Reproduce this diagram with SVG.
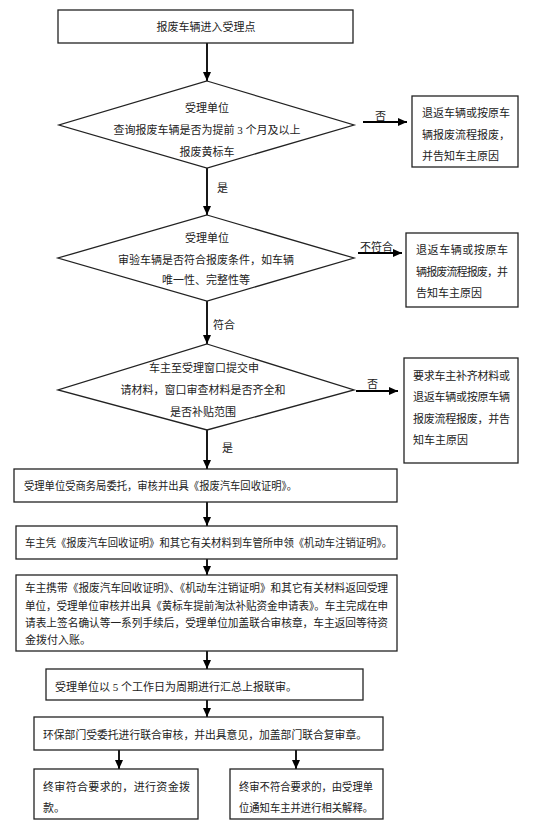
<svg xmlns="http://www.w3.org/2000/svg" width="550" height="829" viewBox="0 0 550 829">
<defs>
<marker id="ah" markerUnits="userSpaceOnUse" markerWidth="9" markerHeight="8" refX="9" refY="4" orient="auto">
<path d="M0,0 L9,4 L0,8 z" fill="#000"/>
</marker>
<style>
.n{fill:#fff;stroke:#222;stroke-width:1.3}
.t{font-family:"Liberation Serif","Noto Sans CJK SC",serif;font-size:11px;fill:#222}
.c{text-anchor:middle}
.e{stroke:#000;stroke-width:1.8;fill:none;marker-end:url(#ah)}
</style>
</defs>
<rect width="550" height="829" fill="#fff"/>
<g id="connectors">
<line class="e" x1="207" y1="43" x2="207" y2="81"/>
<line class="e" x1="207" y1="168" x2="207" y2="215"/>
<line class="e" x1="207" y1="301" x2="207" y2="344"/>
<line class="e" x1="207" y1="430" x2="207" y2="469"/>
<line class="e" x1="207" y1="502" x2="207" y2="526"/>
<line class="e" x1="207" y1="559" x2="207" y2="575"/>
<line class="e" x1="207" y1="651" x2="207" y2="669"/>
<line class="e" x1="207" y1="700" x2="207" y2="717"/>
<line class="e" x1="119" y1="750" x2="119" y2="769"/>
<line class="e" x1="296" y1="750" x2="296" y2="769"/>
<line class="e" x1="363" y1="122" x2="407" y2="122"/>
<line class="e" x1="358" y1="253" x2="402" y2="253"/>
<line class="e" x1="356" y1="391" x2="398" y2="391"/>
<text class="t" x="217" y="192">是</text>
<text class="t" x="213" y="329">符合</text>
<text class="t" x="222" y="452">是</text>
<text class="t" x="375" y="120">否</text>
<text class="t" x="360" y="251">不符合</text>
<text class="t" x="367" y="388">否</text>
</g>
<g id="start">
<rect class="n" x="58" y="10" width="295" height="33"/>
<text class="t c" x="206" y="31">报废车辆进入受理点</text>
</g>
<g id="decision1">
<polygon class="n" points="207,81 354,125 207,168 59,125"/>
<text class="t c" x="207" y="112">受理单位</text>
<text class="t c" x="207" y="134">查询报废车辆是否为提前 3 个月及以上</text>
<text class="t c" x="207" y="156">报废黄标车</text>
</g>
<g id="reject1">
<rect class="n" x="412" y="96" width="106" height="71"/>
<text class="t" x="422" y="117">退返车辆或按原车</text>
<text class="t" x="422" y="139">辆报废流程报废，</text>
<text class="t" x="422" y="160">并告知车主原因</text>
</g>
<g id="decision2">
<polygon class="n" points="207,215 354,258 207,301 58,258"/>
<text class="t c" x="207" y="242">受理单位</text>
<text class="t c" x="206" y="264">审验车辆是否符合报废条件，如车辆</text>
<text class="t c" x="206" y="284">唯一性、完整性等</text>
</g>
<g id="reject2">
<rect class="n" x="406" y="233" width="112" height="74"/>
<text class="t" x="416" y="254" textLength="92" lengthAdjust="spacing">退返车辆或按原车</text>
<text class="t" x="416" y="276" textLength="92" lengthAdjust="spacing">辆报废流程报废，并</text>
<text class="t" x="416" y="297">告知车主原因</text>
</g>
<g id="decision3">
<polygon class="n" points="207,344 354,390 207,430 58,390"/>
<text class="t c" x="204" y="372">车主至受理窗口提交申</text>
<text class="t c" x="203" y="394">请材料，窗口审查材料是否齐全和</text>
<text class="t c" x="203" y="416">是否补贴范围</text>
</g>
<g id="reject3">
<rect class="n" x="404" y="358" width="114" height="105"/>
<text class="t" x="413" y="380" textLength="97" lengthAdjust="spacing">要求车主补齐材料或</text>
<text class="t" x="413" y="401" textLength="97" lengthAdjust="spacing">退返车辆或按原车辆</text>
<text class="t" x="413" y="423" textLength="97" lengthAdjust="spacing">报废流程报废，并告</text>
<text class="t" x="413" y="444">知车主原因</text>
</g>
<g id="step1">
<rect class="n" x="14" y="469" width="383" height="33"/>
<text class="t" x="24" y="490" textLength="273" lengthAdjust="spacingAndGlyphs">受理单位受商务局委托，审核并出具《报废汽车回收证明》。</text>
</g>
<g id="step2">
<rect class="n" x="16" y="526" width="381" height="33"/>
<text class="t" x="25" y="547" textLength="367" lengthAdjust="spacingAndGlyphs">车主凭《报废汽车回收证明》和其它有关材料到车管所申领《机动车注销证明》。</text>
</g>
<g id="step3">
<rect class="n" x="16" y="575" width="381" height="76"/>
<text class="t" x="25" y="592" textLength="363" lengthAdjust="spacingAndGlyphs">车主携带《报废汽车回收证明》、《机动车注销证明》和其它有关材料返回受理</text>
<text class="t" x="25" y="610" textLength="363" lengthAdjust="spacingAndGlyphs">单位，受理单位审核并出具《黄标车提前淘汰补贴资金申请表》。车主完成在申</text>
<text class="t" x="25" y="627" textLength="363" lengthAdjust="spacingAndGlyphs">请表上签名确认等一系列手续后，受理单位加盖联合审核章，车主返回等待资</text>
<text class="t" x="25" y="644">金拨付入账。</text>
</g>
<g id="step4">
<rect class="n" x="46" y="669" width="317" height="31"/>
<text class="t" x="55" y="691">受理单位以 5 个工作日为周期进行汇总上报联审。</text>
</g>
<g id="step5">
<rect class="n" x="34" y="717" width="349" height="33"/>
<text class="t" x="43" y="739" textLength="324" lengthAdjust="spacingAndGlyphs">环保部门受委托进行联合审核，并出具意见，加盖部门联合复审章。</text>
</g>
<g id="approve">
<rect class="n" x="34" y="769" width="164" height="50"/>
<text class="t" x="43" y="791" textLength="147" lengthAdjust="spacing">终审符合要求的，进行资金拨</text>
<text class="t" x="43" y="812">款。</text>
</g>
<g id="deny">
<rect class="n" x="230" y="769" width="153" height="50"/>
<text class="t" x="239" y="791" textLength="134" lengthAdjust="spacingAndGlyphs">终审不符合要求的，由受理单</text>
<text class="t" x="239" y="812" textLength="134" lengthAdjust="spacingAndGlyphs">位通知车主并进行相关解释。</text>
</g>
</svg>
